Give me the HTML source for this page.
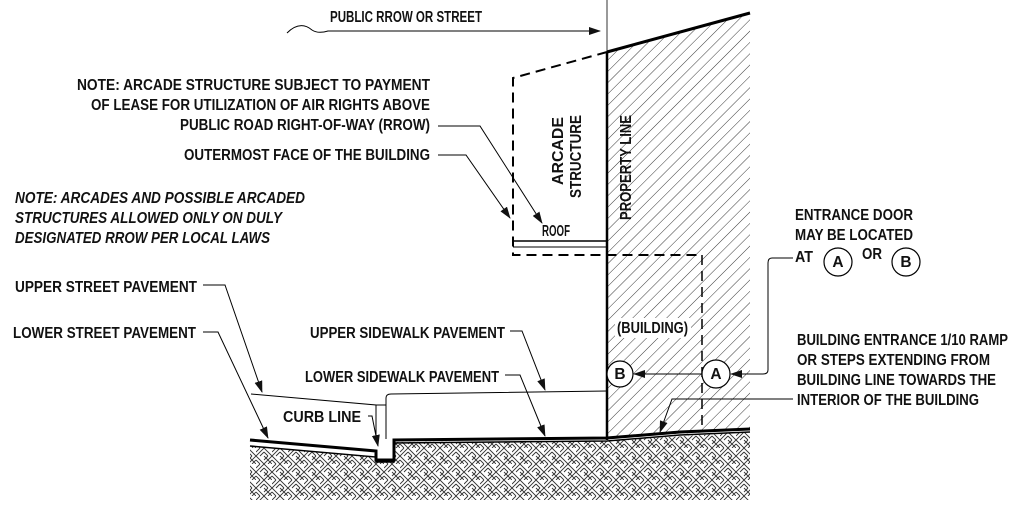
<!DOCTYPE html>
<html><head><meta charset="utf-8"><style>
html,body{margin:0;padding:0;background:#fff;}
svg{display:block;}
text{font-family:"Liberation Sans",sans-serif;font-size:15.5px;fill:#111;font-weight:bold;}
</style></head><body>
<svg width="1024" height="506" viewBox="0 0 1024 506" xmlns="http://www.w3.org/2000/svg">
<defs>
<pattern id="h" width="8" height="8" patternUnits="userSpaceOnUse" patternTransform="rotate(45)">
<line x1="0" y1="0" x2="0" y2="8" stroke="#222" stroke-width="0.9"/>
</pattern>
<pattern id="bw" width="16" height="16" patternUnits="userSpaceOnUse">
<g stroke="#333" stroke-width="0.9" fill="none">
<path d="M0 4 L4 0 M0 8 L8 0 M4 8 L8 4"/>
<path d="M8 8 L16 16 M8 4 L12 8 M12 4 L16 8 M8 0 L16 8"/>
<path d="M0 8 L8 16 M0 12 L4 16"/>
<path d="M8 12 L12 8 M8 16 L16 8 M12 16 L16 12"/>
</g>
</pattern>
<marker id="a" markerWidth="12" markerHeight="8" refX="11" refY="4" orient="auto" markerUnits="userSpaceOnUse">
<path d="M0 0 L12 4 L0 8 Z" fill="#111"/>
</marker>
</defs>

<polygon points="607,52 750,13 750,430 607,438" fill="url(#h)"/>
<polygon points="250,446 376,457 376,462 394,462 394,442 607,441 750,432 750,500 250,500" fill="url(#bw)"/>

<line x1="607" y1="0" x2="607" y2="52" stroke="#333" stroke-width="1"/>
<line x1="607" y1="52" x2="607" y2="440" stroke="#000" stroke-width="2.5"/>
<line x1="607" y1="52" x2="750" y2="13" stroke="#000" stroke-width="3"/>

<g stroke="#000" stroke-width="2" fill="none" stroke-dasharray="10,6">
<path d="M607 52 L513 78 L513 255 L702 255"/>
<line x1="702" y1="255" x2="702" y2="428" stroke-width="1.5"/>
</g>
<line x1="513" y1="241" x2="607" y2="241" stroke="#000" stroke-width="1.5"/>
<line x1="513" y1="247" x2="607" y2="247" stroke="#000" stroke-width="1"/>

<g stroke="#000" fill="none">
<path d="M250 440 L376 451 L376 460 L394 460 L394 440 L607 438 L680 432 L750 429" stroke-width="3"/>
<path d="M250 446 L376 457 L376 462 L394 462 L394 443 L607 441 L680 435 L750 432" stroke-width="1.5"/>
<path d="M251 394 L376 405 L376 439" stroke-width="1"/>
<path d="M376 405 L386 405" stroke-width="1"/>
<path d="M386 439 L386 398 Q386 394 391 394 L607 391" stroke-width="1"/>
</g>

<path d="M287 33 Q300 20 312 30 Q318 34 328 31 L600 31" stroke="#000" stroke-width="1" fill="none" marker-end="url(#a)"/>
<text x="330" y="22" textLength="152" lengthAdjust="spacingAndGlyphs">PUBLIC RROW OR STREET</text>

<text x="77" y="90" textLength="353" lengthAdjust="spacingAndGlyphs">NOTE:  ARCADE STRUCTURE SUBJECT TO PAYMENT</text>
<text x="91" y="110" textLength="339" lengthAdjust="spacingAndGlyphs">OF LEASE FOR UTILIZATION OF AIR RIGHTS ABOVE</text>
<text x="180" y="130" textLength="250" lengthAdjust="spacingAndGlyphs">PUBLIC ROAD RIGHT-OF-WAY (RROW)</text>
<text x="184" y="160" textLength="246" lengthAdjust="spacingAndGlyphs">OUTERMOST FACE OF THE BUILDING</text>
<text x="15" y="203" textLength="290" lengthAdjust="spacingAndGlyphs" font-style="italic">NOTE:  ARCADES AND POSSIBLE ARCADED</text>
<text x="15" y="223" textLength="267" lengthAdjust="spacingAndGlyphs" font-style="italic">STRUCTURES ALLOWED ONLY ON DULY</text>
<text x="15" y="243" textLength="255" lengthAdjust="spacingAndGlyphs" font-style="italic">DESIGNATED RROW PER LOCAL LAWS</text>
<g stroke="#000" stroke-width="1" fill="none">
<path d="M438 126 L480 126 L542 223" marker-end="url(#a)"/>
<path d="M438 155 L466 155 L510 218" marker-end="url(#a)"/>
<path d="M203 285 L225 285 L262 392" marker-end="url(#a)"/>
<path d="M203 332 L218 332 L268 438" marker-end="url(#a)"/>
<path d="M510 331 L522 331 L545 390" marker-end="url(#a)"/>
<path d="M505 375 L520 375 L545 436" marker-end="url(#a)"/>
<path d="M368 416 L372 416 L378 446" marker-end="url(#a)"/>
<path d="M793 399 L672 399 L660 432" marker-end="url(#a)"/>
<path d="M793 258 L772 258 Q768 258 768 263 L768 370 Q768 374 763 374 L731 374" marker-end="url(#a)"/>
<path d="M702 374 L634 374" marker-end="url(#a)"/>
</g>
<text x="542" y="236" font-size="9" font-weight="normal" textLength="28" lengthAdjust="spacingAndGlyphs">ROOF</text>

<text x="15" y="292" textLength="182" lengthAdjust="spacingAndGlyphs">UPPER STREET PAVEMENT</text>
<text x="13" y="338" textLength="183" lengthAdjust="spacingAndGlyphs">LOWER STREET PAVEMENT</text>
<text x="310" y="338" textLength="195" lengthAdjust="spacingAndGlyphs">UPPER SIDEWALK PAVEMENT</text>
<text x="305" y="382" textLength="194" lengthAdjust="spacingAndGlyphs">LOWER SIDEWALK PAVEMENT</text>
<text x="283" y="422" textLength="78" lengthAdjust="spacingAndGlyphs">CURB LINE</text>

<text transform="translate(563,185) rotate(-90)" textLength="68" lengthAdjust="spacingAndGlyphs">ARCADE</text>
<text transform="translate(581,198) rotate(-90)" textLength="83" lengthAdjust="spacingAndGlyphs">STRUCTURE</text>
<text transform="translate(631,220) rotate(-90)" textLength="105" lengthAdjust="spacingAndGlyphs">PROPERTY LINE</text>

<rect x="615" y="318" width="76" height="20" fill="#fff"/>
<text x="617" y="333" textLength="71" lengthAdjust="spacingAndGlyphs">(BUILDING)</text>

<g fill="#fff" stroke="#000" stroke-width="1.2">
<circle cx="620" cy="374" r="13"/>
<circle cx="716" cy="374" r="14"/>
<circle cx="838" cy="262" r="14"/>
<circle cx="906" cy="262" r="14"/>
</g>
<text x="620" y="379" font-size="13" text-anchor="middle">B</text>
<text x="716" y="379" font-size="13" text-anchor="middle">A</text>
<text x="838" y="267" font-size="13" text-anchor="middle">A</text>
<text x="906" y="267" font-size="13" text-anchor="middle">B</text>

<text x="795" y="220" textLength="118" lengthAdjust="spacingAndGlyphs">ENTRANCE DOOR</text>
<text x="795" y="240" textLength="118" lengthAdjust="spacingAndGlyphs">MAY BE LOCATED</text>
<text x="795" y="262" textLength="18" lengthAdjust="spacingAndGlyphs">AT</text>
<text x="862" y="259" textLength="20" lengthAdjust="spacingAndGlyphs">OR</text>

<text x="797" y="345" textLength="211" lengthAdjust="spacingAndGlyphs">BUILDING ENTRANCE 1/10 RAMP</text>
<text x="797" y="365" textLength="193" lengthAdjust="spacingAndGlyphs">OR STEPS EXTENDING FROM</text>
<text x="797" y="385" textLength="199" lengthAdjust="spacingAndGlyphs">BUILDING LINE TOWARDS THE</text>
<text x="797" y="405" textLength="182" lengthAdjust="spacingAndGlyphs">INTERIOR OF THE BUILDING</text>
</svg>
</body></html>
